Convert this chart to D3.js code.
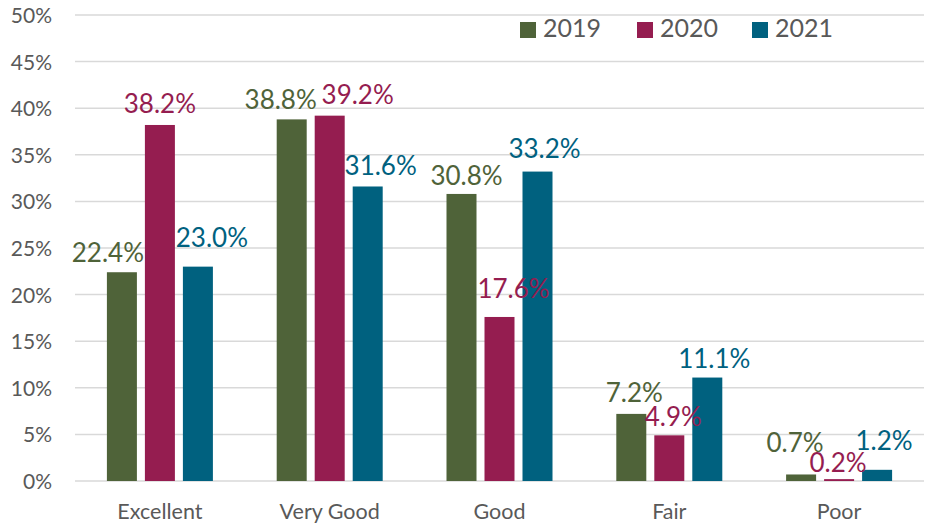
<!DOCTYPE html>
<html>
<head>
<meta charset="utf-8">
<script src="https://cdn.jsdelivr.net/npm/d3@7"></script>
<style>
  body { margin: 0; background: #fff; }
  svg text { font-family: Lato, "Open Sans", sans-serif; }
</style>
</head>
<body>
<div id="chart"></div>
<script>
// data
const categories = ["Excellent", "Very Good", "Good", "Fair", "Poor"];
const years = ["2019", "2020", "2021"];
const values2019 = [22.4, 38.8, 30.8, 7.2, 0.7];
const values2020 = [38.2, 39.2, 17.6, 4.9, 0.2];
const values2021 = [23.0, 31.6, 33.2, 11.1, 1.2];
const yTicks = [0, 5, 10, 15, 20, 25, 30, 35, 40, 45, 50];

const colors = ["#4f6339", "#951d50", "#00617f"];

// hand-placed label nudges (as in the original), per series: [dx, gap above bar]
const labelNudge = [
    [[-14, 10], [-11, 10], [5, 9], [3, 12], [-6, 22]],
    [[0, 12], [28, 12], [14, 19], [4, 9], [-1, 7]],
    [[14, 20], [13, 11], [7, 14], [7, 10], [7, 20]]
];

const width = 930, height = 527;
const svg = d3.select("#chart").append("svg")
    .attr("width", width)
    .attr("height", height);

const x = d3.scaleBand().domain(categories).range([75, 924]);
const y = d3.scaleLinear().domain([0, 50]).range([481, 15]);

// gridlines
svg.append("g").selectAll("line")
    .data(yTicks)
    .join("line")
    .attr("x1", 75).attr("x2", 924)
    .attr("y1", d => y(d)).attr("y2", d => y(d))
    .attr("stroke", "#d9d9d9")
    .attr("stroke-width", 1.5);

// y labels
svg.append("g").selectAll("text")
    .data(yTicks)
    .join("text")
    .attr("x", 52)
    .attr("y", d => y(d) + 8)
    .attr("text-anchor", "end")
    .attr("fill", "#595959")
    .style("font-size", "21px")
    .text(d => d + "%");

// category labels
svg.append("g").selectAll("text")
    .data(categories)
    .join("text")
    .attr("x", d => x(d) + x.bandwidth() / 2)
    .attr("y", 519)
    .attr("text-anchor", "middle")
    .attr("fill", "#595959")
    .style("font-size", "21.5px")
    .text(d => d);

const series = [values2019, values2020, values2021];
const barW = 30, step = 38;
const barsG = svg.append("g");
const labelsG = svg.append("g");   // labels sit above every bar

series.forEach((vals, i) => {
    const cx = c => x(c) + x.bandwidth() / 2 + (i - 1) * step;
    barsG.append("g").selectAll("rect")
        .data(categories)
        .join("rect")
        .attr("x", (c) => cx(c) - barW / 2)
        .attr("y", (c, j) => y(vals[j]))
        .attr("width", barW)
        .attr("height", (c, j) => y(0) - y(vals[j]))
        .attr("fill", colors[i]);
    labelsG.append("g").selectAll("text")
        .data(categories)
        .join("text")
        .attr("x", (c, j) => cx(c) + labelNudge[i][j][0])
        .attr("y", (c, j) => y(vals[j]) - labelNudge[i][j][1])
        .attr("text-anchor", "middle")
        .attr("fill", colors[i])
        .style("font-size", "26px")
        .text((c, j) => vals[j].toFixed(1) + "%");
});

// legend
const legX = [520, 637, 752];
const leg = svg.append("g");
years.forEach((yr, i) => {
    leg.append("rect")
        .attr("x", legX[i]).attr("y", 22)
        .attr("width", 16).attr("height", 16)
        .attr("fill", colors[i]);
    leg.append("text")
        .attr("x", legX[i] + 23).attr("y", 37)
        .attr("fill", "#595959")
        .style("font-size", "25px")
        .text(yr);
});
</script>
</body>
</html>
